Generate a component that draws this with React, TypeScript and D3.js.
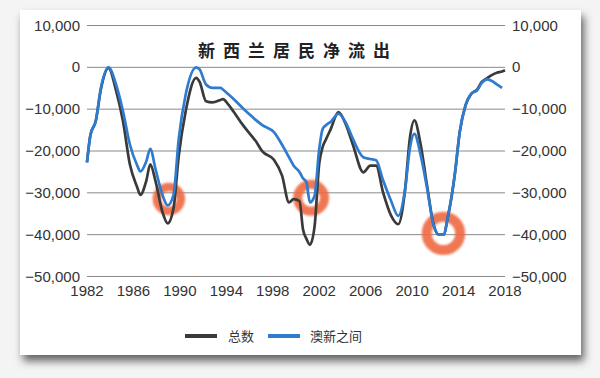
import React from "react";
import * as d3 from "d3";

const years = [
  1982.0, 1982.3, 1982.75, 1983.2, 1983.85, 1984.5, 1985.1, 1985.7, 1986.3, 1986.6,
  1987.1, 1987.45, 1987.9, 1988.5, 1988.95, 1989.45, 1989.9, 1990.5, 1991.4, 1991.7,
  1992.25, 1992.8, 1993.5, 1993.7, 1994.2, 1994.6, 1995.4, 1996.3, 1996.5, 1997.1,
  1998.1, 1998.8, 1999.4, 1999.8, 2000.3, 2000.6, 2000.9, 2001.2, 2001.6, 2002.0,
  2002.3, 2002.6, 2003.0, 2003.65, 2004.3, 2004.9, 2005.8, 2006.4, 2006.9, 2007.5,
  2008.2, 2008.8, 2009.4, 2009.8, 2010.2, 2010.7, 2011.3, 2011.8, 2012.3, 2012.7,
  2013.1, 2013.7, 2014.1, 2014.6, 2015.1, 2015.6, 2016.0, 2016.5, 2016.9, 2017.3,
  2017.75, 2018.0,
];

const total = [
  -22700, -16100, -12900, -5200, -200, -5500, -12900, -23300, -28500, -30500,
  -27200, -23200, -27200, -34600, -37300, -33700, -21200, -10500, -2500, -3500,
  -8100, -8400, -7800, -7600, -9000, -10500, -13700, -16800, -17500, -20100,
  -22100, -25900, -32300, -31500, -32000, -38700, -41000, -42400, -38000, -23000,
  -19000, -17100, -14700, -10700, -13700, -18500, -25100, -23500, -23500, -29900,
  -35500, -37500, -29100, -17100, -12700, -17900, -28500, -37000, -40000, -40000,
  -35500, -25100, -15500, -9100, -6300, -5300, -3500, -2500, -1800, -1300,
  -1000, -700,
];

const ausNz: (number | null)[] = [
  -22700, -16100, -12900, -4900, 0, -4100, -10500, -18500, -23300, -24900,
  -22500, -19500, -24300, -30500, -33000, -30500, -17100, -6500, 0, -500,
  -4100, -4900, -4900, -5300, -6500, -7500, -9700, -12000, -12500, -13800,
  -15500, -18500, -21500, -23500, -25000, -26500, -27500, -32300, -30700, -19500,
  -14700, -13800, -13000, -11100, -13300, -17100, -21500, -21900, -22200, -27000,
  -32000, -35500, -29100, -19500, -15900, -20500, -29100, -37200, -40000, -40000,
  -35500, -25100, -15500, -9100, -6300, -5500, -3700, -2900, -3300, -4100,
  -4900, null,
];

const yTicks = [10000, 0, -10000, -20000, -30000, -40000, -50000];
const xTicks = [1982, 1986, 1990, 1994, 1998, 2002, 2006, 2010, 2014, 2018];
const highlights = [
  { year: 1989.05, value: -31500, r: 12, w: 8.5 },
  { year: 2001.3, value: -31200, r: 13.5, w: 9 },
  { year: 2012.7, value: -39700, r: 16.7, w: 10 },
];
const title = "新西兰居民净流出";
const seriesNames = ["总数", "澳新之间"];

const W = 600;
const H = 378;

export default function App() {
  const x = d3.scaleLinear().domain([1982, 2018]).range([87, 505]);
  const y = d3.scaleLinear().domain([-50000, 10000]).range([276.5, 25.5]);
  const fmt = d3.format(",");

  const blackLine = d3
    .line<number>()
    .x((_, i) => x(years[i]))
    .y((d) => y(d))
    .curve(d3.curveMonotoneX)(total) as string;

  const blueLine = d3
    .line<number | null>()
    .defined((d) => d !== null)
    .x((_, i) => x(years[i]))
    .y((d) => y(d as number))
    .curve(d3.curveMonotoneX)(ausNz) as string;

  const font = "'Liberation Sans', Arial, sans-serif";
  const cjk = "'Noto Sans CJK SC', sans-serif";

  return (
    <svg
      width={W}
      height={H}
      style={{ position: "absolute", left: 0, top: 0, display: "block" }}
    >
      <defs>
        <filter id="shadow" x="-10%" y="-10%" width="125%" height="130%">
          <feDropShadow dx="3" dy="6" stdDeviation="4" floodColor="#000" floodOpacity="0.6" />
        </filter>
        <filter id="soft" x="-50%" y="-50%" width="200%" height="200%">
          <feGaussianBlur stdDeviation="1" />
        </filter>
      </defs>
      <rect x={0} y={0} width={W} height={H} fill="#f4f4f4" />
      <rect x={20} y={10} width={561} height={345} fill="#fff" filter="url(#shadow)" />

      {yTicks.map((t) => (
        <g key={t}>
          <line x1={87} x2={505} y1={y(t)} y2={y(t)} stroke="#8a8a8a" strokeWidth={1} />
          <text x={80} y={y(t) + 5} textAnchor="end" fontFamily={font} fontSize={15} fill="#333">
            {fmt(t)}
          </text>
          <text x={512} y={y(t) + 5} textAnchor="start" fontFamily={font} fontSize={15} fill="#333">
            {fmt(t)}
          </text>
        </g>
      ))}

      {xTicks.map((t) => (
        <text key={t} x={x(t)} y={296} textAnchor="middle" fontFamily={font} fontSize={15} fill="#333">
          {t}
        </text>
      ))}

      <text
        x={298}
        y={57}
        textAnchor="middle"
        fontFamily={cjk}
        fontWeight="bold"
        fontSize={17}
        letterSpacing={8}
        fill="#222"
      >
        {title}
      </text>

      {highlights.map((h, i) => (
        <circle
          key={i}
          cx={x(h.year)}
          cy={y(h.value)}
          r={h.r}
          fill="none"
          stroke="#ee6840"
          strokeOpacity={0.9}
          strokeWidth={h.w}
          filter="url(#soft)"
        />
      ))}

      <path d={blackLine} fill="none" stroke="#3a3a3a" strokeWidth={2.7} strokeLinejoin="round" />
      <path d={blueLine} fill="none" stroke="#2f7bd0" strokeWidth={2.7} strokeLinejoin="round" />

      <line x1={185} x2={217} y1={336} y2={336} stroke="#3a3a3a" strokeWidth={4} />
      <text x={228} y={341} fontFamily={cjk} fontSize={13} fill="#333">
        {seriesNames[0]}
      </text>
      <line x1={268} x2={300} y1={336} y2={336} stroke="#2f7bd0" strokeWidth={4} />
      <text x={310} y={341} fontFamily={cjk} fontSize={13} fill="#333">
        {seriesNames[1]}
      </text>
    </svg>
  );
}
